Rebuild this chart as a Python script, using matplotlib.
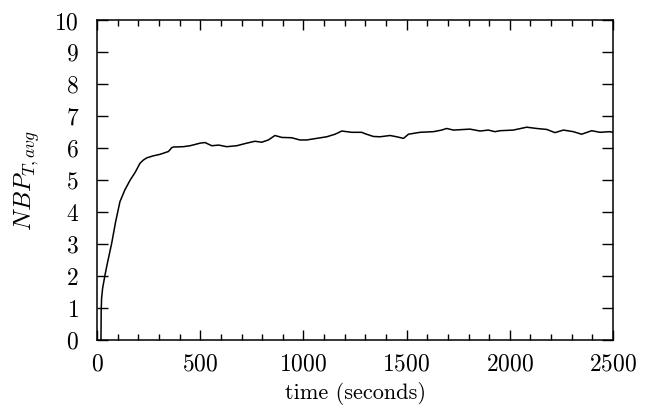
import matplotlib
matplotlib.use("Agg")
import matplotlib.pyplot as plt
from matplotlib.ticker import MultipleLocator

plt.rcParams['font.family'] = 'cmr10'
plt.rcParams['mathtext.fontset'] = 'cm'
plt.rcParams['axes.formatter.use_mathtext'] = True

# time (s) and NBP_T,avg
time_s = [18, 19, 20, 22, 27, 39, 50, 71, 90, 111, 135, 160, 185, 208, 224, 241,
          270, 305, 346, 362, 370, 418, 451, 499, 523, 556, 590, 628, 677, 725,
          765, 798, 830, 862, 895, 943, 983, 1016, 1064, 1113, 1153, 1186, 1234,
          1282, 1306, 1339, 1371, 1420, 1452, 1485, 1509, 1565, 1630, 1670, 1694,
          1727, 1807, 1856, 1896, 1928, 1953, 2017, 2082, 2130, 2179, 2219, 2260,
          2308, 2348, 2397, 2437, 2485, 2500]
nbp = [0.0, 0.0, 0.9, 1.3, 1.62, 2.05, 2.4, 3.03, 3.7, 4.33, 4.7, 5.0, 5.25,
       5.53, 5.63, 5.70, 5.76, 5.81, 5.90, 6.02, 6.04, 6.05, 6.08, 6.16, 6.18,
       6.08, 6.10, 6.05, 6.08, 6.16, 6.22, 6.19, 6.26, 6.40, 6.34, 6.33, 6.26,
       6.26, 6.31, 6.36, 6.44, 6.54, 6.50, 6.50, 6.44, 6.37, 6.36, 6.40, 6.36,
       6.31, 6.44, 6.50, 6.52, 6.57, 6.62, 6.57, 6.60, 6.54, 6.57, 6.52, 6.55,
       6.57, 6.66, 6.62, 6.59, 6.49, 6.57, 6.52, 6.44, 6.55, 6.50, 6.52, 6.50]

fig = plt.figure(figsize=(6.47, 4.13), dpi=100)
ax = fig.add_axes([0.15, 0.1768, 0.7974, 0.7736])

ax.plot(time_s, nbp, color='black', lw=1.1)

ax.set_xlim(0, 2500)
ax.set_ylim(0, 10)
ax.xaxis.set_major_locator(MultipleLocator(500))
ax.xaxis.set_minor_locator(MultipleLocator(100))
ax.yaxis.set_major_locator(MultipleLocator(1))

ax.tick_params(which='both', direction='in', top=True, right=True,
               labelsize=17, width=1)
ax.tick_params(axis='x', which='major', length=7, pad=10)
ax.tick_params(axis='x', which='minor', length=4)
ax.tick_params(axis='y', which='major', length=8, pad=13)
for s in ax.spines.values():
    s.set_linewidth(1.1)

ax.set_xlabel('time (seconds)', fontsize=16, labelpad=4)
ax.set_ylabel(r'$NBP_{T,avg}$', fontsize=18, labelpad=9)

fig.savefig('out.png', dpi=100)
